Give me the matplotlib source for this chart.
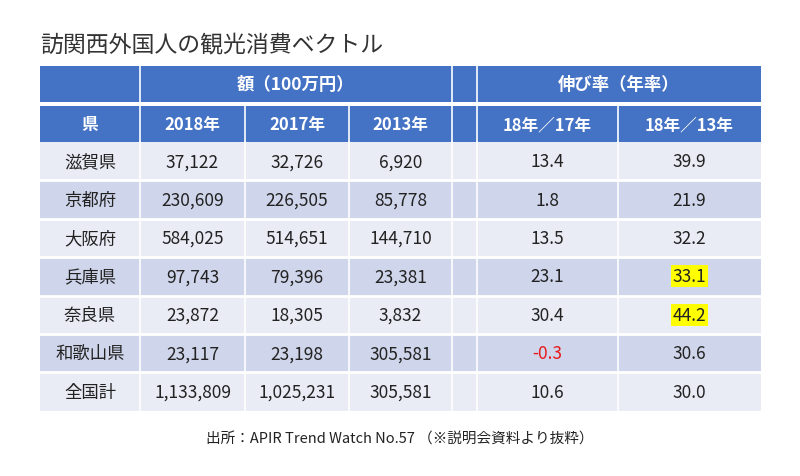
import matplotlib.pyplot as plt
from matplotlib.patches import Rectangle

plt.rcParams['font.family'] = ['Noto Sans CJK JP', 'DejaVu Sans']

title = "訪関西外国人の観光消費ベクトル"
group_labels = ["額（100万円）", "伸び率（年率）"]
col_labels = ["県", "2018年", "2017年", "2013年", "", "18年／17年", "18年／13年"]
prefectures = ["滋賀県", "京都府", "大阪府", "兵庫県", "奈良県", "和歌山県", "全国計"]
amount_2018 = ["37,122", "230,609", "584,025", "97,743", "23,872", "23,117", "1,133,809"]
amount_2017 = ["32,726", "226,505", "514,651", "79,396", "18,305", "23,198", "1,025,231"]
amount_2013 = ["6,920", "85,778", "144,710", "23,381", "3,832", "305,581", "305,581"]
growth_18_17 = [13.4, 1.8, 13.5, 23.1, 30.4, -0.3, 10.6]
growth_18_13 = [39.9, 21.9, 32.2, 33.1, 44.2, 30.6, 30.0]
highlight_18_13 = ["兵庫県", "奈良県"]
source = "出所：APIR Trend Watch No.57 （※説明会資料より抜粋）"

# layout in pixels
col_edges = [40, 140, 245, 349, 452, 477, 618, 761]
head_tops = [67, 107]
head_h = 36
data_top, row_h = 143, 38.4
blue = "#4472C4"
light = "#E9EBF5"
dark = "#CFD5EA"
line_w = 2

fig = plt.figure(figsize=(8, 4.77), dpi=100)
ax = fig.add_axes([0, 0, 1, 1])
ax.set_xlim(0, 800)
ax.set_ylim(477, 0)
ax.axis("off")

ax.text(40, 45, title, fontsize=16.5, color="#333333", va="center", ha="left")

# header rows
for y0 in head_tops:
    ax.add_patch(Rectangle((col_edges[0], y0), col_edges[-1] - col_edges[0], head_h,
                           facecolor=blue, edgecolor="none"))
for c in [1, 4, 5]:
    ax.plot([col_edges[c]] * 2, [head_tops[0], head_tops[0] + head_h], color="white", lw=1.2)
for c in range(1, len(col_edges) - 1):
    ax.plot([col_edges[c]] * 2, [head_tops[1], head_tops[1] + head_h], color="white", lw=1.2)

hy = head_tops[0] + head_h / 2
ax.text((col_edges[1] + col_edges[4]) / 2, hy, group_labels[0], color="white",
        fontsize=12.5, fontweight="bold", ha="center", va="center")
ax.text((col_edges[5] + col_edges[7]) / 2, hy, group_labels[1], color="white",
        fontsize=12.5, fontweight="bold", ha="center", va="center")
for c, lab in enumerate(col_labels):
    ax.text((col_edges[c] + col_edges[c + 1]) / 2, head_tops[1] + head_h / 2, lab, color="white",
            fontsize=12, fontweight="bold", ha="center", va="center")

# data rows
for i, pref in enumerate(prefectures):
    y0 = data_top + i * row_h
    fc = light if i % 2 == 0 else dark
    ax.add_patch(Rectangle((col_edges[0], y0), col_edges[-1] - col_edges[0], row_h,
                           facecolor=fc, edgecolor="none"))
    if i > 0:
        ax.plot([col_edges[0], col_edges[-1]], [y0, y0], color="white", lw=line_w)
    yc = y0 + row_h / 2
    cells = [pref, amount_2018[i], amount_2017[i], amount_2013[i], "",
             f"{growth_18_17[i]:.1f}", f"{growth_18_13[i]:.1f}"]
    for c, val in enumerate(cells):
        if not val:
            continue
        color = "#E81818" if (c == 5 and growth_18_17[i] < 0) else "#222222"
        bbox = None
        if c == 6 and pref in highlight_18_13:
            bbox = dict(facecolor="#FFFF00", edgecolor="none", pad=1.5)
        ax.text((col_edges[c] + col_edges[c + 1]) / 2, yc, val, fontsize=12.5,
                color=color, ha="center", va="center", bbox=bbox)

data_bottom = data_top + len(prefectures) * row_h
for c in range(1, len(col_edges) - 1):
    ax.plot([col_edges[c]] * 2, [data_top, data_bottom], color="white", lw=1.2)

ax.text(400, 440, source, fontsize=10.5, color="#222222", ha="center", va="center")

fig.savefig("out.png", dpi=100)
